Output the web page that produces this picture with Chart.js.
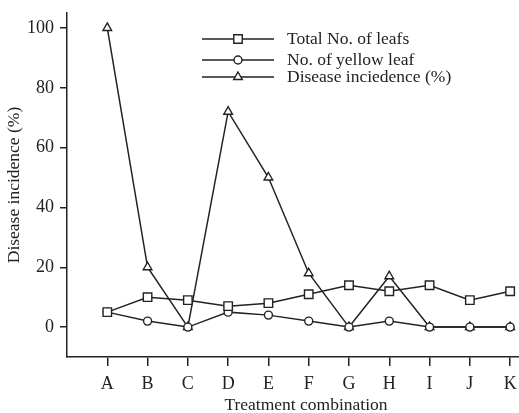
<!DOCTYPE html>
<html>
<head>
<meta charset="utf-8">
<script src="https://cdn.jsdelivr.net/npm/chart.js@4/dist/chart.umd.min.js"></script>
<style>
  html, body { margin: 0; padding: 0; background: #fff; }
</style>
</head>
<body>
<canvas id="lineChart" width="519" height="413"></canvas>
<script>
// treatments on the x axis
var treatments = ['A', 'B', 'C', 'D', 'E', 'F', 'G', 'H', 'I', 'J', 'K'];
var totalLeafs = [5, 10, 9, 7, 8, 11, 14, 12, 14, 9, 12];
var yellowLeaf = [5, 2, 0, 5, 4, 2, 0, 2, 0, 0, 0];
var diseaseIncidence = [100, 20, 0, 72, 50, 18, 0, 17, 0, 0, 0];
var yTicks = [0, 20, 40, 60, 80, 100];

var seriesNames = ['Total No. of leafs', 'No. of yellow leaf', 'Disease inciedence (%)'];
var seriesMarkers = ['rect', 'circle', 'triangle'];
var markerSize = { rect: 6, circle: 4, triangle: 5 };
var xTitle = 'Treatment combination';
var ink = '#222';
var serif = '"Liberation Serif", "Times New Roman", serif';

function toPoints(values) {
    return values.map(function (v, i) { return { x: i, y: v }; });
}

function makeSet(idx, values) {
    return {
        label: seriesNames[idx],
        data: toPoints(values),
        borderColor: ink,
        borderWidth: 1.5,
        backgroundColor: '#fff',
        pointStyle: seriesMarkers[idx],
        pointRadius: markerSize[seriesMarkers[idx]],
        pointBorderWidth: 1.4,
        pointBorderColor: ink,
        pointBackgroundColor: '#fff',
        tension: 0,
        clip: false
    };
}

// legend drawn as line + marker + text, plus the x title (sits a bit right of centre)
var legendPlugin = {
    id: 'lineLegend',
    afterDraw: function (chart) {
        var c = chart.ctx;
        var x0 = 202, x1 = 274, rowY = [39, 60, 77];
        c.save();
        for (var i = 0; i < seriesNames.length; i++) {
            var y = rowY[i];
            c.strokeStyle = ink;
            c.lineWidth = 1.5;
            c.beginPath();
            c.moveTo(x0, y);
            c.lineTo(x1, y);
            c.stroke();
            var opts = { pointStyle: seriesMarkers[i], radius: markerSize[seriesMarkers[i]], rotation: 0, borderWidth: 1.4 };
            c.fillStyle = '#fff';
            c.lineWidth = 1.4;
            Chart.helpers.drawPoint(c, opts, (x0 + x1) / 2, y);
            c.fillStyle = ink;
            c.font = '17.5px ' + serif;
            c.textBaseline = 'middle';
            c.textAlign = 'left';
            c.fillText(seriesNames[i], 287, y);
        }
        c.textAlign = 'center';
        c.textBaseline = 'alphabetic';
        c.fillText(xTitle, 306, 410);
        c.restore();
    }
};

var ctx = document.getElementById('lineChart').getContext('2d');
var myChart = new Chart(ctx, {
    type: 'line',
    data: {
        datasets: [
            makeSet(0, totalLeafs),
            makeSet(1, yellowLeaf),
            makeSet(2, diseaseIncidence)
        ]
    },
    options: {
        responsive: false,
        animation: false,
        layout: { autoPadding: false, padding: { top: 13, right: 0, left: 0, bottom: 0 } },
        plugins: {
            legend: { display: false },
            tooltip: { enabled: false }
        },
        scales: {
            x: {
                type: 'linear',
                min: -1,
                max: 10.22,
                afterBuildTicks: function (scale) {
                    scale.ticks = treatments.map(function (t, i) { return { value: i }; });
                },
                afterFit: function (scale) {
                    scale.height = 56;
                    scale.paddingLeft = 0;
                    scale.paddingRight = 0;
                },
                grid: { display: true, drawOnChartArea: false, drawTicks: true, tickLength: 9, color: ink, lineWidth: 1.5 },
                border: { display: true, color: ink, width: 1.5 },
                ticks: {
                    color: ink,
                    font: { family: serif, size: 18 },
                    padding: 7,
                    maxRotation: 0,
                    autoSkip: false,
                    callback: function (v) { return treatments[v]; }
                },
                title: { display: false }
            },
            y: {
                type: 'linear',
                min: -10,
                max: 105,
                afterBuildTicks: function (scale) {
                    scale.ticks = yTicks.map(function (v) { return { value: v }; });
                },
                afterFit: function (scale) {
                    scale.width = 67;
                    scale.paddingTop = 0;
                    scale.paddingBottom = 0;
                },
                grid: { display: true, drawOnChartArea: false, drawTicks: true, tickLength: 7, color: ink, lineWidth: 1.5 },
                border: { display: true, color: ink, width: 1.5 },
                ticks: {
                    color: ink,
                    font: { family: serif, size: 18 },
                    padding: 6
                },
                title: {
                    display: true,
                    text: 'Disease incidence (%)',
                    color: ink,
                    font: { family: serif, size: 17.5 },
                    padding: { top: 4, bottom: 2 }
                }
            }
        }
    },
    plugins: [legendPlugin]
});
</script>
</body>
</html>
